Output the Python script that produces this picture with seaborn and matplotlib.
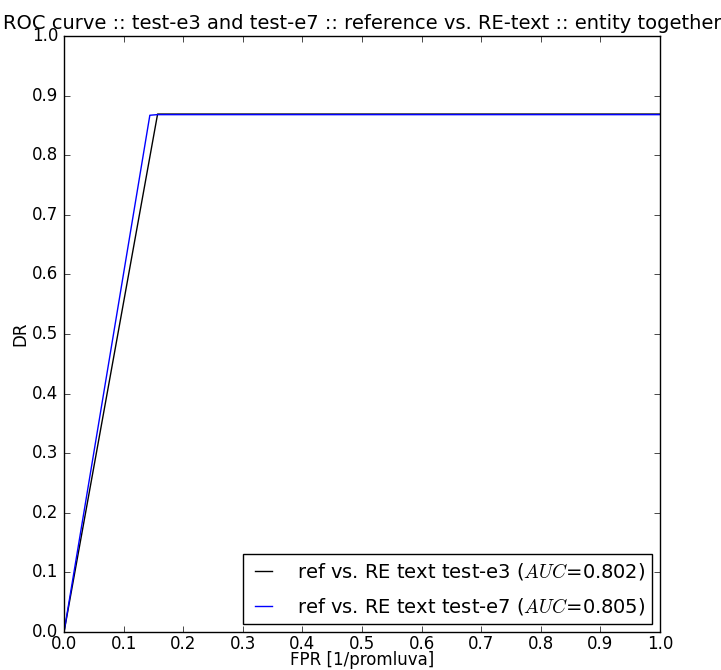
import matplotlib
matplotlib.use("Agg")
import matplotlib.pyplot as plt
import seaborn as sns
import pandas as pd

plt.style.use("classic")
plt.rcParams["font.family"] = ["DejaVu Sans"]
plt.rcParams["mathtext.fontset"] = "cm"

# ROC points (false positive rate, detection rate)
fpr_e3 = [0.0, 0.157, 1.0]
dr_e3 = [0.0, 0.869, 0.869]
fpr_e7 = [0.0, 0.144, 0.156, 1.0]
dr_e7 = [0.0, 0.867, 0.868, 0.868]
labels = ["ref vs. RE text test-e3 ($AUC$=0.802)",
          "ref vs. RE text test-e7 ($AUC$=0.805)"]

df = pd.concat([
    pd.DataFrame({"fpr": fpr_e3, "dr": dr_e3, "curve": labels[0]}),
    pd.DataFrame({"fpr": fpr_e7, "dr": dr_e7, "curve": labels[1]}),
])

fig = plt.figure(figsize=(7.21, 6.70), dpi=100)
ax = fig.add_axes([0.0888, 0.0567, 0.8266, 0.8896])
sns.lineplot(data=df, x="fpr", y="dr", hue="curve",
             palette=["black", "blue"], sort=False, estimator=None,
             linewidth=1.0, ax=ax)
ax.set_xlim(0, 1)
ax.set_ylim(0, 1)
ax.set_xticks([i / 10 for i in range(11)])
ax.set_yticks([i / 10 for i in range(11)])
ax.tick_params(labelsize=12)
ax.tick_params(axis="x", pad=2)
ax.set_xlabel("FPR [1/promluva]", fontsize=12, labelpad=-1)
ax.set_ylabel("DR", fontsize=12, labelpad=2)
ax.set_title("ROC curve :: test-e3 and test-e7 :: reference vs. RE-text :: entity together",
             fontsize=14)
ax.legend(loc="lower right", fontsize=14, title=None, labelspacing=0.75,
          borderpad=0.35, handlelength=1.45, handletextpad=1.0,
          borderaxespad=0.4)
fig.savefig("out.png", dpi=100)
